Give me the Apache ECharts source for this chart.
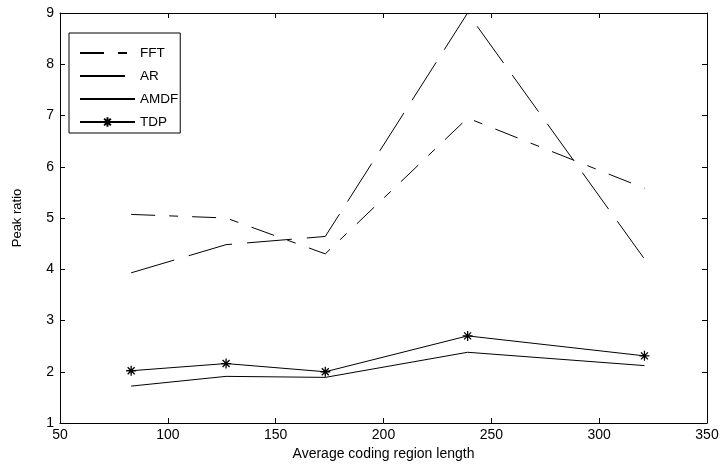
<!DOCTYPE html>
<html>
<head>
<meta charset="utf-8">
<script src="https://cdn.jsdelivr.net/npm/echarts@6/dist/echarts.min.js"></script>
<style>
html,body{margin:0;padding:0;background:#fff;}
#c{width:726px;height:468px;}
</style>
</head>
<body>
<div id="c"></div>
<script>
var xValues = [83, 127, 173, 239, 321];
var fftValues = [5.07, 5.00, 4.30, 6.95, 5.58];
var arValues = [3.93, 4.48, 4.64, 9.0, 4.20];
var amdfValues = [1.72, 1.91, 1.89, 2.38, 2.12];
var tdpValues = [2.02, 2.16, 2.00, 2.70, 2.31];
var seriesNames = ['FFT', 'AR', 'AMDF', 'TDP'];
var xTitle = 'Average coding region length';
var yTitle = 'Peak ratio';

function pairs(vals){ return xValues.map(function(x,i){ return [x, vals[i]]; }); }

var FONT = "'Liberation Sans', Arial, sans-serif";
var star = 'path://M0,-10L0,10M-10,0L10,0M-7,-7L7,7M-7,7L7,-7';

var chart = echarts.init(document.getElementById('c'), null, {renderer:'canvas'});
var axisLine = {show:true, lineStyle:{color:'#000', width:1}};
var tick = {show:true, inside:true, length:5, lineStyle:{color:'#000', width:1}};
var legendData = seriesNames.map(function(n){
  return n === 'TDP' ? {name:n} : {name:n, itemStyle:{opacity:0}};
});
chart.setOption({
  animation:false,
  backgroundColor:'#fff',
  grid:{left:60, right:19, top:13, bottom:45, containLabel:false},
  legend:{
    orient:'vertical', left:69, top:33,
    data:legendData,
    itemWidth:55, itemHeight:12, itemGap:9,
    padding:[13,2,4,10],
    borderColor:'#000', borderWidth:1, backgroundColor:'#fff',
    textStyle:{fontFamily:FONT, fontSize:13.5, lineHeight:12, color:'#000', padding:0},
    selectedMode:false
  },
  xAxis:[
    {type:'value', min:50, max:350, interval:50, position:'bottom',
     axisLine:axisLine, axisTick:tick, splitLine:{show:false},
     axisLabel:{fontFamily:FONT, fontSize:14, color:'#000', margin:5},
     name:xTitle, nameLocation:'middle', nameGap:24,
     nameTextStyle:{fontFamily:FONT, fontSize:14, color:'#000'}},
    {type:'value', min:50, max:350, interval:50, position:'top',
     axisLine:axisLine, axisTick:tick, splitLine:{show:false}, axisLabel:{show:false}}
  ],
  yAxis:[
    {type:'value', min:1, max:9, interval:1, position:'left',
     axisLine:axisLine, axisTick:tick, splitLine:{show:false},
     axisLabel:{fontFamily:FONT, fontSize:14, color:'#000', margin:6},
     name:yTitle, nameLocation:'middle', nameGap:36,
     nameTextStyle:{fontFamily:FONT, fontSize:13, color:'#000'}},
    {type:'value', min:1, max:9, interval:1, position:'right',
     axisLine:axisLine, axisTick:tick, splitLine:{show:false}, axisLabel:{show:false}}
  ],
  series:[
    {name:'FFT', type:'line', data:pairs(fftValues), symbol:'none',
     lineStyle:{color:'#000', width:1, type:[24,14,9,14]}, itemStyle:{color:'#000'}},
    {name:'AR', type:'line', data:pairs(arValues), symbol:'none',
     lineStyle:{color:'#000', width:1, type:[45,15]}, itemStyle:{color:'#000'}},
    {name:'AMDF', type:'line', data:pairs(amdfValues), symbol:'none',
     lineStyle:{color:'#000', width:1}, itemStyle:{color:'#000'}},
    {name:'TDP', type:'line', data:pairs(tdpValues), symbol:star, symbolSize:10, showSymbol:true,
     lineStyle:{color:'#000', width:1},
     itemStyle:{color:'#000', borderColor:'#000', borderWidth:1.3}}
  ]
});
</script>
</body>
</html>
